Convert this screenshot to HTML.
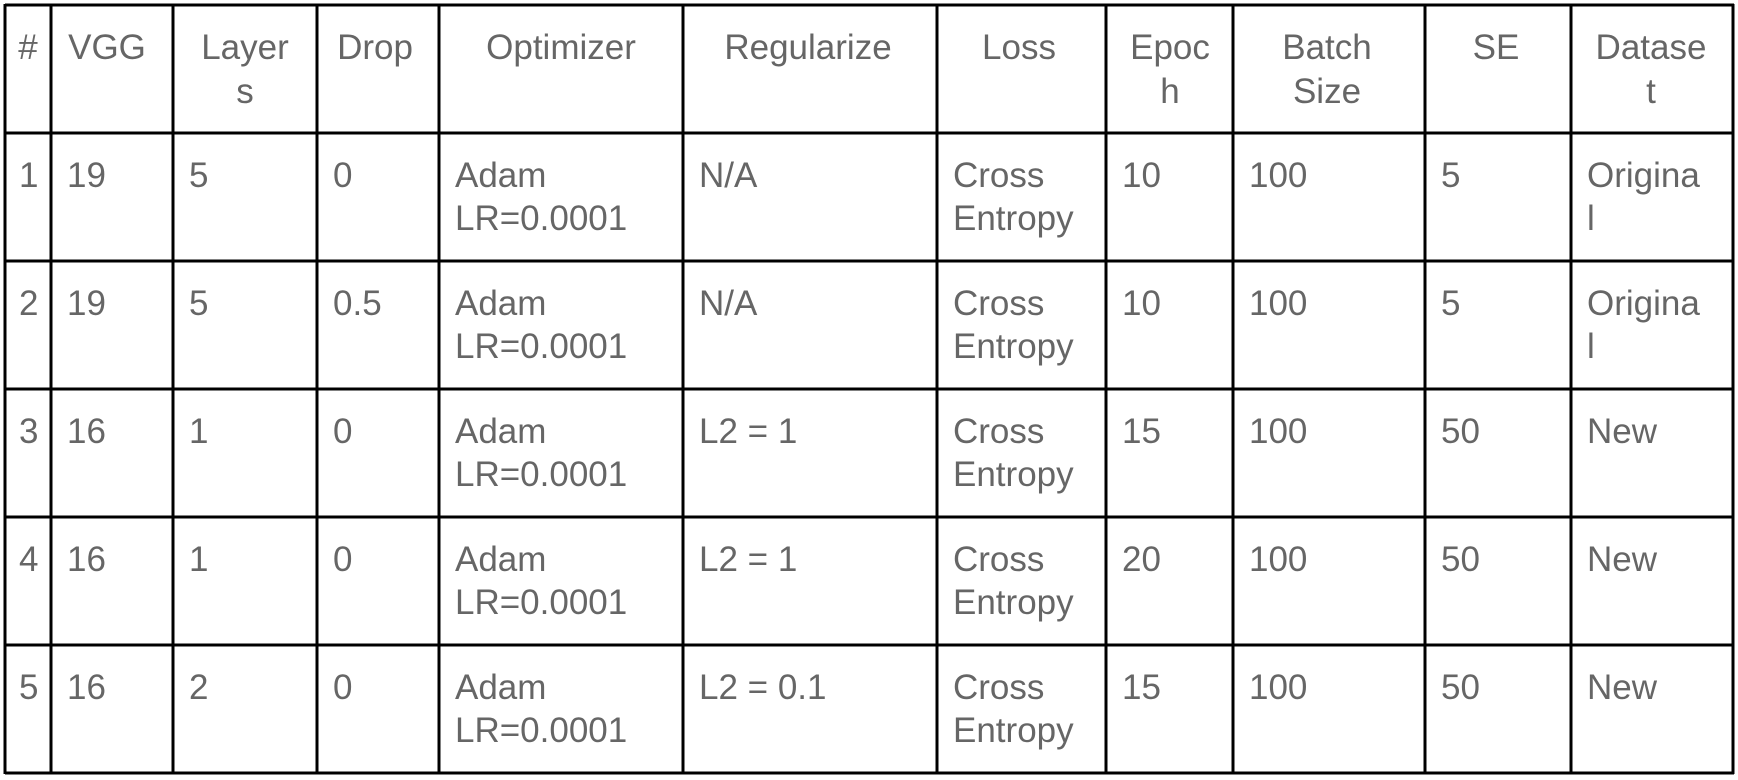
<!DOCTYPE html>
<html><head><meta charset="utf-8"><style>
html,body{margin:0;padding:0;background:#fff;}
svg{display:block;}
text{font-family:"Liberation Sans",sans-serif;font-size:35px;fill:#666;}
</style></head><body>
<svg width="1738" height="780" viewBox="0 0 1738 780" xmlns="http://www.w3.org/2000/svg">
<g stroke="#000" stroke-width="3">
<line x1="5" y1="5" x2="1734" y2="5"/>
<line x1="5" y1="133" x2="1734" y2="133"/>
<line x1="5" y1="261" x2="1734" y2="261"/>
<line x1="5" y1="389" x2="1734" y2="389"/>
<line x1="5" y1="517" x2="1734" y2="517"/>
<line x1="5" y1="645" x2="1734" y2="645"/>
<line x1="5" y1="773" x2="1734" y2="773"/>
<line x1="5" y1="4" x2="5" y2="774"/>
<line x1="51" y1="4" x2="51" y2="774"/>
<line x1="173" y1="4" x2="173" y2="774"/>
<line x1="317" y1="4" x2="317" y2="774"/>
<line x1="439" y1="4" x2="439" y2="774"/>
<line x1="683" y1="4" x2="683" y2="774"/>
<line x1="937" y1="4" x2="937" y2="774"/>
<line x1="1106" y1="4" x2="1106" y2="774"/>
<line x1="1233" y1="4" x2="1233" y2="774"/>
<line x1="1425" y1="4" x2="1425" y2="774"/>
<line x1="1571" y1="4" x2="1571" y2="774"/>
<line x1="1733" y1="4" x2="1733" y2="774"/>
</g>
<g text-anchor="middle">
<text x="28" y="59">#</text>
<text x="107" y="59">VGG</text>
<text x="245" y="59">Layer</text><text x="245" y="103">s</text>
<text x="375" y="59">Drop</text>
<text x="561" y="59">Optimizer</text>
<text x="808" y="59">Regularize</text>
<text x="1019" y="59">Loss</text>
<text x="1170" y="59">Epoc</text><text x="1170" y="103">h</text>
<text x="1327" y="59">Batch</text><text x="1327" y="103">Size</text>
<text x="1496" y="59">SE</text>
<text x="1651" y="59">Datase</text><text x="1651" y="103">t</text>
</g>
<g>
<text x="19" y="187">1</text><text x="67" y="187">19</text><text x="189" y="187">5</text><text x="333" y="187">0</text>
<text x="455" y="187">Adam</text><text x="455" y="230">LR=0.0001</text>
<text x="699" y="187">N/A</text>
<text x="953" y="187">Cross</text><text x="953" y="230">Entropy</text>
<text x="1122" y="187">10</text><text x="1249" y="187">100</text><text x="1441" y="187">5</text>
<text x="1587" y="187">Origina</text><text x="1587" y="230">l</text>

<text x="19" y="315">2</text><text x="67" y="315">19</text><text x="189" y="315">5</text><text x="333" y="315">0.5</text>
<text x="455" y="315">Adam</text><text x="455" y="358">LR=0.0001</text>
<text x="699" y="315">N/A</text>
<text x="953" y="315">Cross</text><text x="953" y="358">Entropy</text>
<text x="1122" y="315">10</text><text x="1249" y="315">100</text><text x="1441" y="315">5</text>
<text x="1587" y="315">Origina</text><text x="1587" y="358">l</text>

<text x="19" y="443">3</text><text x="67" y="443">16</text><text x="189" y="443">1</text><text x="333" y="443">0</text>
<text x="455" y="443">Adam</text><text x="455" y="486">LR=0.0001</text>
<text x="699" y="443">L2 = 1</text>
<text x="953" y="443">Cross</text><text x="953" y="486">Entropy</text>
<text x="1122" y="443">15</text><text x="1249" y="443">100</text><text x="1441" y="443">50</text>
<text x="1587" y="443">New</text>

<text x="19" y="571">4</text><text x="67" y="571">16</text><text x="189" y="571">1</text><text x="333" y="571">0</text>
<text x="455" y="571">Adam</text><text x="455" y="614">LR=0.0001</text>
<text x="699" y="571">L2 = 1</text>
<text x="953" y="571">Cross</text><text x="953" y="614">Entropy</text>
<text x="1122" y="571">20</text><text x="1249" y="571">100</text><text x="1441" y="571">50</text>
<text x="1587" y="571">New</text>

<text x="19" y="699">5</text><text x="67" y="699">16</text><text x="189" y="699">2</text><text x="333" y="699">0</text>
<text x="455" y="699">Adam</text><text x="455" y="742">LR=0.0001</text>
<text x="699" y="699">L2 = 0.1</text>
<text x="953" y="699">Cross</text><text x="953" y="742">Entropy</text>
<text x="1122" y="699">15</text><text x="1249" y="699">100</text><text x="1441" y="699">50</text>
<text x="1587" y="699">New</text>
</g>
</svg>
</body></html>
